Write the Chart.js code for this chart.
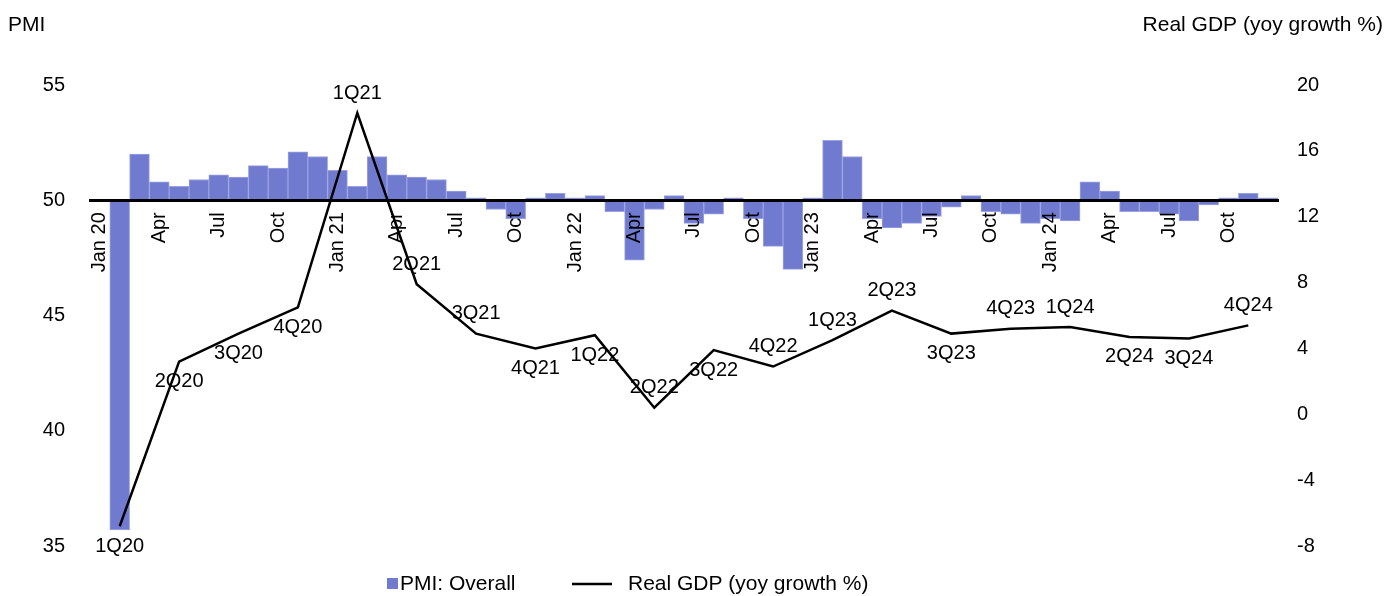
<!DOCTYPE html>
<html>
<head>
<meta charset="utf-8">
<script src="https://cdn.jsdelivr.net/npm/chart.js@4.4.1/dist/chart.umd.min.js"></script>
<style>
  html, body { margin: 0; padding: 0; background: #fff; }
  #wrap { width: 1387px; height: 596px; position: relative; }
  canvas { display: block; }
</style>
</head>
<body>
<div id="wrap"><canvas id="chart" width="1387" height="596"></canvas></div>
<script>
// Monthly categories, Jan 2020 - Dec 2024
const months = [
  'Jan 20','Feb 20','Mar 20','Apr 20','May 20','Jun 20','Jul 20','Aug 20','Sep 20','Oct 20','Nov 20','Dec 20',
  'Jan 21','Feb 21','Mar 21','Apr 21','May 21','Jun 21','Jul 21','Aug 21','Sep 21','Oct 21','Nov 21','Dec 21',
  'Jan 22','Feb 22','Mar 22','Apr 22','May 22','Jun 22','Jul 22','Aug 22','Sep 22','Oct 22','Nov 22','Dec 22',
  'Jan 23','Feb 23','Mar 23','Apr 23','May 23','Jun 23','Jul 23','Aug 23','Sep 23','Oct 23','Nov 23','Dec 23',
  'Jan 24','Feb 24','Mar 24','Apr 24','May 24','Jun 24','Jul 24','Aug 24','Sep 24','Oct 24','Nov 24','Dec 24'
];

// Axis labels shown on every third month
const xTickLabels = [
  'Jan 20','Apr','Jul','Oct',
  'Jan 21','Apr','Jul','Oct',
  'Jan 22','Apr','Jul','Oct',
  'Jan 23','Apr','Jul','Oct',
  'Jan 24','Apr','Jul','Oct'
];

// PMI: Overall (monthly, 50 = neutral)
const pmiValues = [
  50.0, 35.7, 52.0, 50.8, 50.6, 50.9, 51.1, 51.0, 51.5, 51.4, 52.1, 51.9,
  51.3, 50.6, 51.9, 51.1, 51.0, 50.9, 50.4, 50.1, 49.6, 49.2, 50.1, 50.3,
  50.1, 50.2, 49.5, 47.4, 49.6, 50.2, 49.0, 49.4, 50.1, 49.2, 48.0, 47.0,
  50.1, 52.6, 51.9, 49.2, 48.8, 49.0, 49.3, 49.7, 50.2, 49.5, 49.4, 49.0,
  49.2, 49.1, 50.8, 50.4, 49.5, 49.5, 49.4, 49.1, 49.8, 50.1, 50.3, 50.1
];

// Real GDP, yoy growth %, plotted at the middle month of each quarter
const gdpQuarters = [
  '1Q20','2Q20','3Q20','4Q20','1Q21','2Q21','3Q21','4Q21','1Q22','2Q22',
  '3Q22','4Q22','1Q23','2Q23','3Q23','4Q23','1Q24','2Q24','3Q24','4Q24'
];
const gdpMonths = [
  'Feb 20','May 20','Aug 20','Nov 20','Feb 21','May 21','Aug 21','Nov 21','Feb 22','May 22',
  'Aug 22','Nov 22','Feb 23','May 23','Aug 23','Nov 23','Feb 24','May 24','Aug 24','Nov 24'
];
const gdpValues = [
  -6.8, 3.2, 4.9, 6.5, 18.3, 7.9, 4.9, 4.0, 4.8, 0.4,
  3.9, 2.9, 4.5, 6.3, 4.9, 5.2, 5.3, 4.7, 4.6, 5.4
];

const pmiTicks = [35, 40, 45, 50, 55];
const gdpTicks = [-8, -4, 0, 4, 8, 12, 16, 20];

// ---- styling ----
const FONT = "'Liberation Sans', Arial, sans-serif";
const BAR_COLOR = '#707bd0';
const BAR_EDGE = '#9aa2e0';
const labelSide = ['below','below','below','below','above','above','above','below','below','above',
                   'below','above','above','above','below','above','above','below','below','above'];

Chart.defaults.font.family = FONT;
Chart.defaults.font.size = 20;
Chart.defaults.color = '#000';

// quarter labels next to each GDP point
const quarterLabels = {
  id: 'quarterLabels',
  afterDatasetsDraw(chart) {
    const meta = chart.getDatasetMeta(1);
    const ctx = chart.ctx;
    ctx.save();
    ctx.font = '20px ' + FONT;
    ctx.fillStyle = '#000';
    ctx.textAlign = 'center';
    ctx.textBaseline = 'middle';
    meta.data.forEach((pt, i) => {
      const dy = labelSide[i] === 'above' ? -20 : 20;
      ctx.fillText(gdpQuarters[i], pt.x, pt.y + dy);
    });
    ctx.restore();
  }
};

// axis headers and legend
const frame = {
  id: 'frame',
  afterDraw(chart) {
    const ctx = chart.ctx;
    ctx.save();
    ctx.fillStyle = '#000';
    ctx.font = '21px ' + FONT;
    ctx.textBaseline = 'middle';
    ctx.textAlign = 'left';
    ctx.fillText('PMI', 8, 25);
    ctx.textAlign = 'right';
    ctx.fillText('Real GDP (yoy growth %)', 1383, 25);

    // legend
    const ly = 584;
    ctx.fillStyle = BAR_COLOR;
    ctx.fillRect(387, ly - 6, 11, 11);
    ctx.fillStyle = '#000';
    ctx.textAlign = 'left';
    ctx.fillText('PMI: Overall', 400, ly);
    ctx.strokeStyle = '#000';
    ctx.lineWidth = 2.5;
    ctx.beginPath();
    ctx.moveTo(572, ly);
    ctx.lineTo(612, ly);
    ctx.stroke();
    ctx.fillText('Real GDP (yoy growth %)', 628, ly);
    ctx.restore();
  }
};

new Chart(document.getElementById('chart'), {
  type: 'bar',
  data: {
    labels: months,
    datasets: [
      {
        type: 'bar',
        label: 'PMI: Overall',
        data: pmiValues,
        base: 50,
        yAxisID: 'y',
        backgroundColor: BAR_COLOR,
        borderColor: BAR_EDGE,
        borderWidth: 1,
        categoryPercentage: 1.0,
        barPercentage: 1.0,
        order: 2
      },
      {
        type: 'line',
        label: 'Real GDP (yoy growth %)',
        data: gdpMonths.map((m, i) => ({ x: m, y: gdpValues[i] })),
        yAxisID: 'y2',
        borderColor: '#000',
        borderWidth: 2.5,
        pointRadius: 0,
        tension: 0,
        order: 1
      }
    ]
  },
  options: {
    responsive: false,
    animation: false,
    devicePixelRatio: 1,
    layout: { padding: { top: 85, bottom: 50, left: 0, right: 0 } },
    plugins: {
      legend: { display: false },
      tooltip: { enabled: false }
    },
    scales: {
      x: {
        type: 'category',
        position: { y: 50 },
        offset: true,
        grid: { display: false, drawTicks: false, tickLength: 0 },
        border: { display: true, color: '#000', width: 3, z: 1 },
        ticks: {
          z: 1,
          autoSkip: false,
          maxRotation: 90,
          minRotation: 90,
          padding: 12,
          font: { size: 20 },
          callback: (v, i) => (i % 3 === 0 ? xTickLabels[i / 3] : '')
        }
      },
      y: {
        position: 'left',
        min: 35,
        max: 55,
        grid: { display: false, drawTicks: false, tickLength: 0 },
        border: { display: false },
        afterBuildTicks: s => { s.ticks = pmiTicks.map(v => ({ value: v })); },
        afterFit: s => { s.width = 90; },
        ticks: { padding: 25, font: { size: 20 } }
      },
      y2: {
        position: 'right',
        min: -8,
        max: 20,
        grid: { display: false, drawTicks: false, tickLength: 0 },
        border: { display: false },
        afterBuildTicks: s => { s.ticks = gdpTicks.map(v => ({ value: v })); },
        afterFit: s => { s.width = 109; },
        ticks: { padding: 19, font: { size: 20 } }
      }
    }
  },
  plugins: [quarterLabels, frame]
});
</script>
</body>
</html>
